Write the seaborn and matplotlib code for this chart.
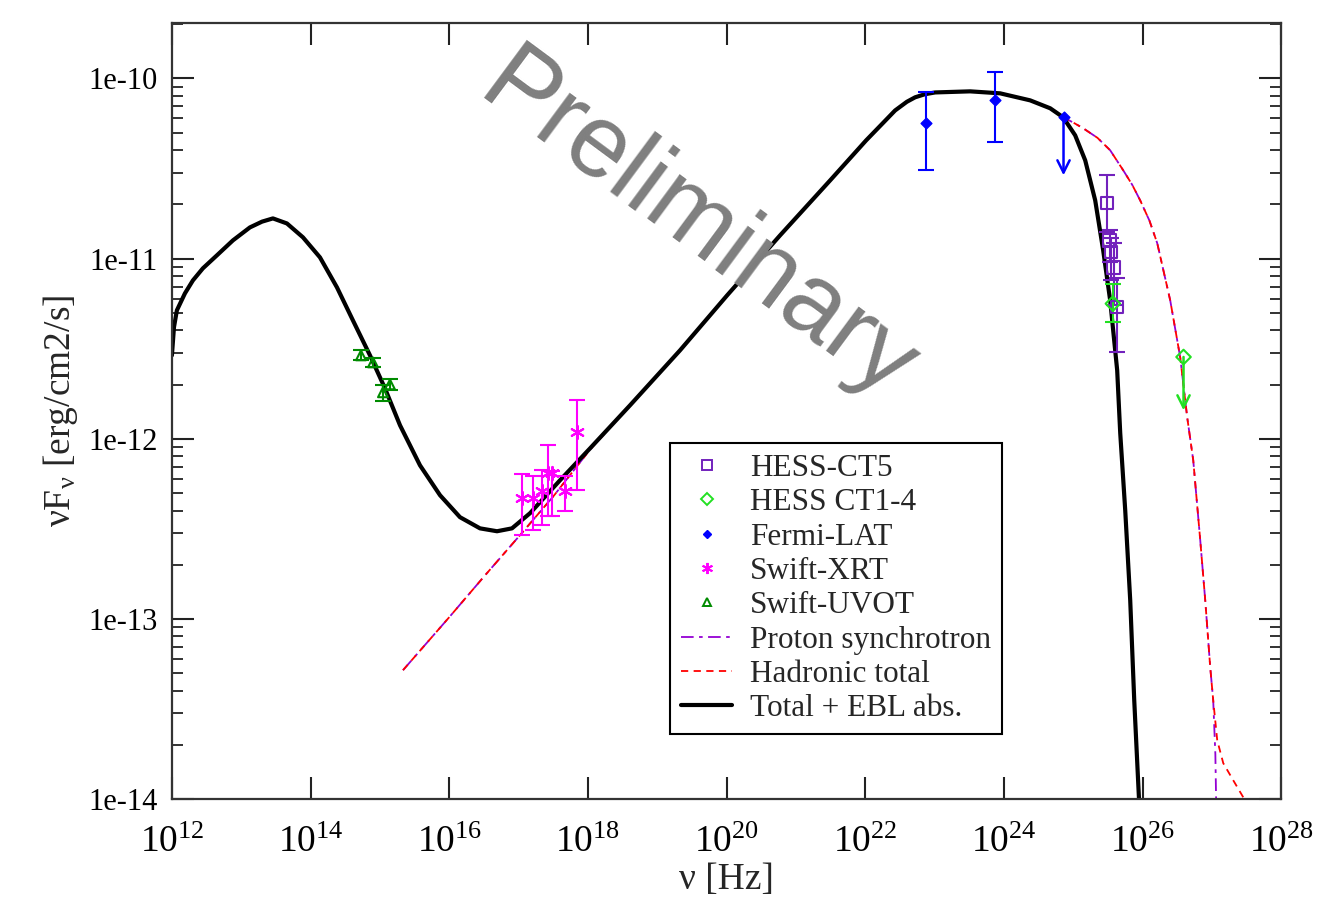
import numpy as np
import pandas as pd
import matplotlib
matplotlib.use("Agg")
import matplotlib.pyplot as plt
import seaborn as sns
from matplotlib.lines import Line2D
from matplotlib.ticker import FixedLocator, NullLocator, LogLocator, NullFormatter

# values, as log10(nu / Hz) and log10(nuFnu / erg/cm2/s)
total_lognu = [12.0, 12.03, 12.072, 12.188, 12.303, 12.447, 12.649, 12.880, 13.125, 13.30, 13.457,
               13.659, 13.890, 14.135, 14.381, 14.611, 14.857, 15.073, 15.290, 15.578, 15.867,
               16.155, 16.444, 16.689, 16.905, 17.165, 17.598, 18.031, 18.608, 19.329, 20.008,
               20.772, 21.494, 22.013, 22.25, 22.431, 22.60, 22.720, 22.86, 23.009, 23.513,
               23.946, 24.379, 24.668, 24.855, 25.028, 25.173, 25.317, 25.432, 25.533, 25.634,
               25.678, 25.750, 25.822, 25.880, 25.955]
total_logf = [-11.537, -11.38, -11.287, -11.193, -11.121, -11.054, -10.982, -10.899, -10.827, -10.795,
              -10.777, -10.805, -10.882, -10.993, -11.160, -11.343, -11.537, -11.720, -11.925,
              -12.147, -12.313, -12.435, -12.497, -12.513, -12.497, -12.413, -12.230, -12.053,
              -11.814, -11.509, -11.204, -10.871, -10.566, -10.344, -10.25, -10.178, -10.13,
              -10.105, -10.088, -10.078, -10.072, -10.083, -10.122, -10.166, -10.216, -10.316,
              -10.455, -10.677, -10.954, -11.232, -11.620, -11.969, -12.397, -12.896, -13.451,
              -14.05]

had_lognu = [15.333, 16.0, 16.5, 17.02, 17.5, 18.031, 18.608, 19.329, 20.008, 20.772,
             21.494, 22.013, 22.25, 22.431, 22.60, 22.720, 22.86, 23.009, 23.513, 23.946,
             24.379, 24.668, 24.855, 25.0, 25.144, 25.35, 25.533, 25.721, 25.85, 25.966,
             26.1, 26.212, 26.399, 26.543, 26.644, 26.731, 26.832, 26.904, 26.976, 27.019,
             27.077, 27.164, 27.308, 27.452, 27.5]
had_logf = [-13.284, -12.99, -12.765, -12.535, -12.32, -12.06, -11.814, -11.509, -11.204, -10.871,
            -10.566, -10.344, -10.25, -10.178, -10.13, -10.105, -10.088, -10.078, -10.072, -10.083,
            -10.122, -10.166, -10.216, -10.245, -10.277, -10.33, -10.399, -10.510, -10.59, -10.677,
            -10.79, -10.915, -11.232, -11.548, -11.881, -12.119, -12.563, -12.896, -13.268, -13.451,
            -13.673, -13.800, -13.895, -13.989, -14.02]

psyn_lognu = [15.333, 16.0, 16.5, 17.02, 17.5, 18.031, 18.608, 19.329, 20.008, 20.772,
              21.494, 22.013, 22.25, 22.431, 22.60, 22.720, 22.86, 23.009, 23.513, 23.946,
              24.379, 24.668, 24.855, 25.0, 25.144, 25.35, 25.533, 25.721, 25.85, 25.966,
              26.1, 26.212, 26.399, 26.543, 26.644, 26.731, 26.832, 26.904, 26.976, 27.019,
              27.050, 27.063]
psyn_logf = [-13.284, -12.99, -12.765, -12.535, -12.32, -12.06, -11.814, -11.509, -11.204, -10.871,
             -10.566, -10.344, -10.25, -10.178, -10.13, -10.105, -10.088, -10.078, -10.072, -10.083,
             -10.122, -10.166, -10.216, -10.245, -10.277, -10.33, -10.399, -10.510, -10.59, -10.677,
             -10.79, -10.915, -11.232, -11.548, -11.881, -12.119, -12.563, -12.896, -13.268, -13.451,
             -13.75, -14.05]

ct5_lognu = [25.486, 25.526, 25.548, 25.581, 25.630]
ct5_logf = [-10.692, -10.899, -10.965, -11.049, -11.269]
ct5_hi = [-10.538, -10.843, -10.888, -10.915, -11.110]
ct5_lo = [-10.854, -11.021, -11.121, -11.259, -11.520]

ct14_lognu = [25.572]
ct14_logf = [-11.250]
ct14_hi = [-11.139]
ct14_lo = [-11.352]
ct14_ul_lognu = [26.591]
ct14_ul_logf = [-11.546]
ct14_ul_end = [-11.842]

lat_lognu = [22.879, 23.874]
lat_logf = [-10.248, -10.118]
lat_hi = [-10.076, -9.965]
lat_lo = [-10.506, -10.355]
lat_ul_lognu = [24.86]
lat_ul_logf = [-10.215]
lat_ul_end = [-10.538]

xrt_lognu = [17.045, 17.209, 17.334, 17.425, 17.478, 17.670, 17.848]
xrt_logf = [-12.329, -12.327, -12.292, -12.188, -12.188, -12.292, -11.965]
xrt_hi = [-12.194, -12.209, -12.172, -12.033, -12.176, -12.205, -11.784]
xrt_lo = [-12.536, -12.504, -12.476, -12.430, -12.430, -12.403, -12.283]

uvot_lognu = [14.727, 14.900, 15.044, 15.145]
uvot_logf = [-11.537, -11.576, -11.742, -11.698]
uvot_hi = [-11.51, -11.55, -11.70, -11.67]
uvot_lo = [-11.565, -11.60, -11.79, -11.73]

c_ct5 = "#7221bc"
c_ct14 = "#22e022"
c_lat = "#0000ff"
c_xrt = "#ff00ff"
c_uvot = "#008b00"
c_psyn = "#9400d3"
c_had = "#ff0000"

sns.set_style("ticks")
plt.rcParams["font.family"] = ["Liberation Serif", "DejaVu Serif"]
plt.rcParams["mathtext.fontset"] = "custom"
plt.rcParams["mathtext.rm"] = "Liberation Serif"
plt.rcParams["mathtext.it"] = "Liberation Serif:italic"

fig = plt.figure(figsize=(13.43, 8.98), dpi=100)
ax = fig.add_axes([0.128, 0.110, 0.826, 0.864])
ax.set_xscale("log")
ax.set_yscale("log")


def lin(a):
    return 10 ** np.asarray(a, dtype=float)


def curve(lx, ly, **kw):
    df = pd.DataFrame({"nu": lin(lx), "f": lin(ly)})
    sns.lineplot(data=df, x="nu", y="f", ax=ax, sort=False, estimator=None, **kw)


def marks(x, y, color, marker, s, style):
    df = pd.DataFrame({"nu": x, "f": y})
    if style == "filled":
        sns.scatterplot(data=df, x="nu", y="f", ax=ax, marker=marker, s=s,
                        color=color, edgecolor=color, linewidth=1, zorder=4)
    elif style == "lines":
        sns.scatterplot(data=df, x="nu", y="f", ax=ax, marker=marker, s=s,
                        color=color, linewidth=1.5, zorder=4)
    else:
        sns.scatterplot(data=df, x="nu", y="f", ax=ax, marker=marker, s=s,
                        facecolors="none", edgecolors=color, linewidths=1.5, zorder=4)


curve(psyn_lognu, psyn_logf, color=c_psyn, lw=1.3, linestyle=(0, (7, 3, 2, 3)))
curve(had_lognu, had_logf, color=c_had, lw=1.3, linestyle=(0, (4, 3)))
curve(total_lognu, total_logf, color="black", lw=3.0)


def points(lx, ly, hi, lo, color, marker, s, style="open"):
    x = lin(lx)
    y = lin(ly)
    yerr = [y - lin(lo), lin(hi) - y]
    ax.errorbar(x, y, yerr=yerr, fmt="none", ecolor=color, elinewidth=1.5,
                capsize=6, capthick=1.5, zorder=3)
    marks(x, y, color, marker, s, style)


def upper(lx, ly, lend, color, marker, s, style="open"):
    for xv, yv, ye in zip(lin(lx), lin(ly), lin(lend)):
        ax.annotate("", xy=(xv, ye), xytext=(xv, yv),
                    arrowprops=dict(arrowstyle="->", color=color, lw=1.8,
                                    mutation_scale=22, shrinkA=0, shrinkB=0), zorder=3)
    marks(lin(lx), lin(ly), color, marker, s, style)


points(uvot_lognu, uvot_logf, uvot_hi, uvot_lo, c_uvot, "^", 50)
points(xrt_lognu, xrt_logf, xrt_hi, xrt_lo, c_xrt, (6, 2, 0), 90, style="lines")
points(lat_lognu, lat_logf, lat_hi, lat_lo, c_lat, "D", 30, style="filled")
upper(lat_ul_lognu, lat_ul_logf, lat_ul_end, c_lat, "D", 30, style="filled")
points(ct5_lognu, ct5_logf, ct5_hi, ct5_lo, c_ct5, "s", 80)
points(ct14_lognu, ct14_logf, ct14_hi, ct14_lo, c_ct14, "D", 55)
upper(ct14_ul_lognu, ct14_ul_logf, ct14_ul_end, c_ct14, "D", 55)

ax.set_xlim(1e12, 1e28)
ax.set_ylim(1e-14, 2.02e-10)

xt = [12, 14, 16, 18, 20, 22, 24, 26, 28]
ax.xaxis.set_major_locator(FixedLocator([10.0 ** e for e in xt]))
ax.set_xticklabels([r"$\mathrm{10}^{%d}$" % e for e in xt])
ax.xaxis.set_minor_locator(NullLocator())
yt = [-14, -13, -12, -11, -10]
ax.yaxis.set_major_locator(FixedLocator([10.0 ** e for e in yt]))
ax.set_yticklabels(["1e%d" % e for e in yt])
ax.yaxis.set_minor_locator(LogLocator(base=10, subs=np.arange(2, 10)))
ax.yaxis.set_minor_formatter(NullFormatter())

ax.tick_params(which="both", direction="in", top=True, right=True, colors="#222222")
ax.tick_params(which="major", length=16, width=1.5)
ax.tick_params(which="minor", length=8, width=1.3)
ax.tick_params(axis="y", labelsize=22, pad=10, labelcolor="black")
ax.tick_params(axis="x", labelsize=27, pad=19, labelcolor="black")
for sp in ax.spines.values():
    sp.set_linewidth(1.6)
    sp.set_color("#333333")

ax.set_xlabel("ν [Hz]", fontsize=27, labelpad=2)
ax.set_ylabel(r"νF$_{\mathrm{ν}}$ [erg/cm2/s]", fontsize=27, labelpad=6)

ax.text(0.473, 0.735, "Preliminary", transform=ax.transAxes, rotation=-36.5,
        fontsize=74, color="#7f7f7f", family="Liberation Sans",
        ha="center", va="center", zorder=5)

handles = [
    Line2D([], [], ls="none", marker="s", ms=7, mfc="none", mec=c_ct5, mew=1.4),
    Line2D([], [], ls="none", marker="D", ms=6, mfc="none", mec=c_ct14, mew=1.4),
    Line2D([], [], ls="none", marker="D", ms=4.5, mfc=c_lat, mec=c_lat),
    Line2D([], [], ls="none", marker=(6, 2, 0), ms=8, mec=c_xrt, mew=1.4),
    Line2D([], [], ls="none", marker="^", ms=6, mfc="none", mec=c_uvot, mew=1.4),
    Line2D([], [], color=c_psyn, lw=1.3, ls=(0, (7, 3, 2, 3))),
    Line2D([], [], color=c_had, lw=1.3, ls=(0, (4, 3))),
    Line2D([], [], color="black", lw=3.0),
]
labels = ["HESS-CT5", "HESS CT1-4", "Fermi-LAT", "Swift-XRT", "Swift-UVOT",
          "Proton synchrotron", "Hadronic total", "Total + EBL abs."]
leg = ax.legend(handles, labels, loc="upper left", bbox_to_anchor=(0.449, 0.459),
                fontsize=22.5, frameon=True, fancybox=False, shadow=False,
                borderpad=0.35, labelspacing=0.17, handlelength=1.65, handletextpad=0.55,
                borderaxespad=0)
leg.get_frame().set_edgecolor("black")
leg.get_frame().set_linewidth(1.5)
leg.get_frame().set_facecolor("white")
leg.get_frame().set_alpha(1)

fig.savefig("out.png", dpi=100)
